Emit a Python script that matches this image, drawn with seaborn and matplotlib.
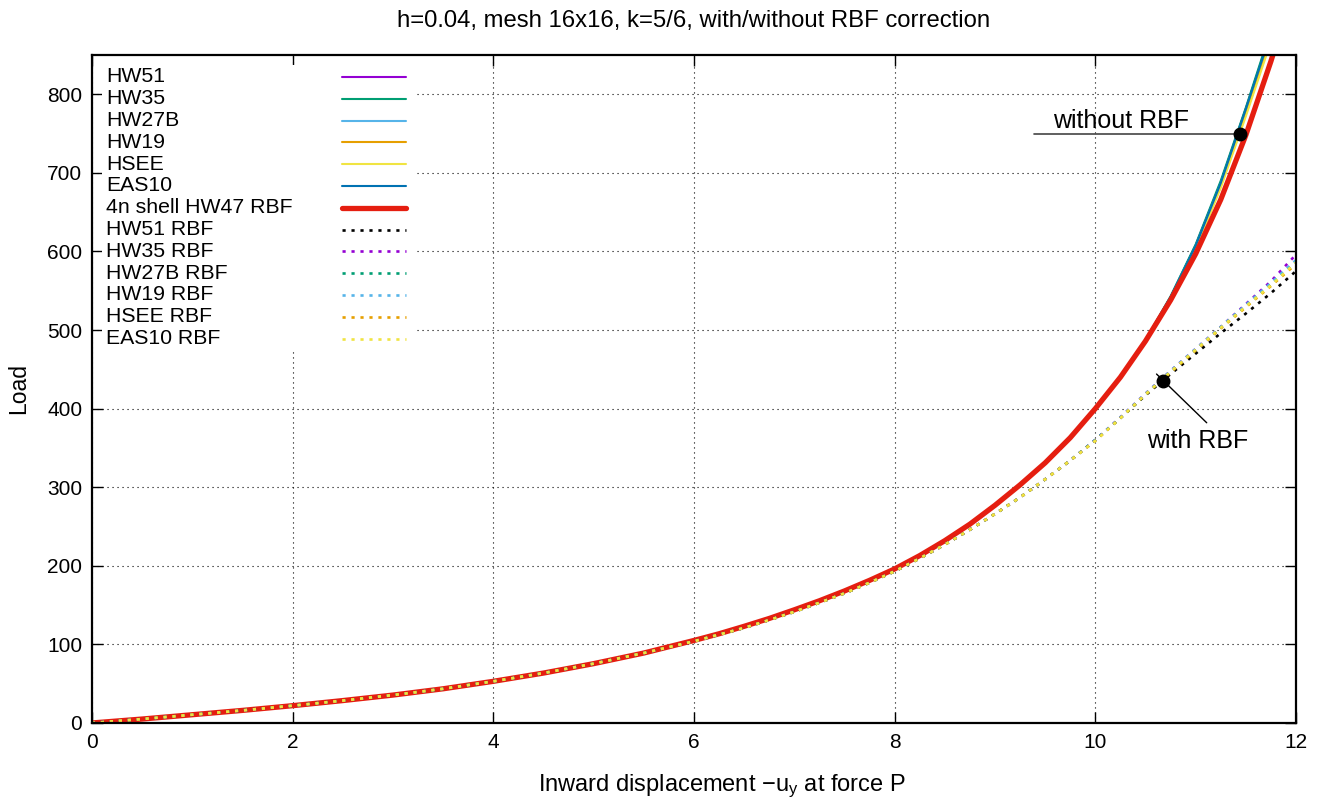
import matplotlib
matplotlib.use("Agg")
import pandas as pd
import matplotlib.pyplot as plt
import seaborn as sns
from matplotlib.patches import Rectangle


sns.set_theme(style="ticks")
plt.rcParams["font.family"] = ["Liberation Sans", "DejaVu Sans"]
plt.rcParams["mathtext.default"] = "regular"
plt.rcParams["text.color"] = "black"
plt.rcParams["axes.labelcolor"] = "black"

# displacement grid, low part shared by every curve
disp_low = [0.0, 0.5, 1.0, 1.5, 2.0, 2.5, 3.0, 3.5, 4.0, 4.5, 5.0, 5.5]
load_low = [0, 5, 10.5, 16, 22, 28.5, 35.5, 43.5, 53, 63.5, 75.5, 89]
disp_high = [6.0, 6.25, 6.5, 6.75, 7.0, 7.25, 7.5, 7.75, 8.0, 8.25, 8.5, 8.75, 9.0,
             9.25, 9.5, 9.75, 10.0, 10.25, 10.5, 10.75, 11.0, 11.25, 11.5, 11.75, 12.0]

# without RBF correction
hw51 = [105, 113.5, 123, 133, 144, 155.5, 168, 181.5, 196, 213, 232, 253, 277,
        303, 331, 363, 400, 441, 487, 542, 608, 688, 782, 879, 982]
hw35 = [105, 113.5, 123, 133, 144, 155.5, 168, 181.5, 196, 213, 232, 253, 277,
        303, 331, 363, 400, 441, 487, 543, 609, 690, 783, 882, 985]
hw27b = [105, 113.5, 123, 133, 144, 155.5, 168, 181.5, 196, 213, 232, 253, 277,
         303, 331, 363, 400, 441, 487, 541, 606, 686, 779, 876, 978]
hw19 = [105, 113.5, 123, 133, 144, 155.5, 168, 181.5, 196, 213, 232, 253, 277,
        303, 331, 363, 400, 440, 486, 540, 604, 683, 775, 870, 970]
hsee = [105, 113.5, 123, 133, 144, 155.5, 168, 181.5, 196, 213, 232, 253, 277,
        303, 331, 363, 400, 440, 486, 540, 603, 681, 772, 867, 966]
eas10 = [105, 113.5, 123, 133, 144, 155.5, 168, 181.5, 196, 213, 232, 253, 277,
         303, 331, 363, 400, 441, 487, 542, 607, 687, 781, 878, 980]
hw47_4n_rbf = [105, 113.5, 123, 133, 144, 155.5, 168, 181.5, 196, 213, 232, 253, 277,
               303, 331, 363, 400, 440, 486, 538, 597, 666, 748, 842, 945]

# with RBF correction
hw51_rbf = [104, 112.5, 121, 131, 141.5, 153, 165, 178.5, 193, 209.5, 227, 246, 266,
            287, 310, 334, 360, 388, 417, 444, 470, 496, 521, 547, 575]
hw35_rbf = [104, 112.5, 121, 131, 141.5, 153, 165, 178.5, 193, 209.5, 227, 246, 266,
            287, 310, 334, 360, 389, 419, 448, 476, 504, 533, 562, 596]
hw27b_rbf = [104, 112.5, 121, 131, 141.5, 153, 165, 178.5, 193, 209.5, 227, 246, 266,
             287, 310, 334, 360, 388, 418, 447, 475, 503, 531, 559, 588]
hw19_rbf = [104, 112.5, 121, 131, 141.5, 153, 165, 178.5, 193, 209.5, 227, 246, 266,
            287, 310, 334, 360, 389, 419, 448, 476, 504, 532, 560, 589]
hsee_rbf = [104, 112.5, 121, 131, 141.5, 153, 165, 178.5, 193, 209.5, 227, 246, 266,
            287, 310, 334, 359, 388, 418, 446, 474, 502, 529, 556, 584]
eas10_rbf = [104, 112.5, 121, 131, 141.5, 153, 165, 178.5, 193, 209.5, 227, 246, 266,
             287, 310, 334, 359, 388, 418, 447, 475, 503, 530, 557, 586]

series_names = ["HW51", "HW35", "HW27B", "HW19", "HSEE", "EAS10", "4n shell HW47 RBF",
                "HW51 RBF", "HW35 RBF", "HW27B RBF", "HW19 RBF", "HSEE RBF", "EAS10 RBF"]
series_tails = [hw51, hw35, hw27b, hw19, hsee, eas10, hw47_4n_rbf,
                hw51_rbf, hw35_rbf, hw27b_rbf, hw19_rbf, hsee_rbf, eas10_rbf]
series_colors = ["#9400d3", "#009e73", "#56b4e9", "#e69f00", "#f0e442", "#0072b2", "#e51e10",
                 "#000000", "#9400d3", "#009e73", "#56b4e9", "#e69f00", "#f0e442"]

x_ticks = [0, 2, 4, 6, 8, 10, 12]
y_ticks = [0, 100, 200, 300, 400, 500, 600, 700, 800]

# annotation points
without_pt = (11.44, 750)
without_line_x = [9.39, 11.44]
without_text = (9.58, 757)
with_pt = (10.67, 435)
with_line = ([10.61, 11.11], [444, 382])
with_text = (10.52, 350)

rows = []
for name, tail in zip(series_names, series_tails):
    for x, y in zip(disp_low + disp_high, load_low + tail):
        rows.append({"series": name, "disp": x, "load": y})
df = pd.DataFrame(rows)

fig = plt.figure(figsize=(13.23, 8.05), dpi=100)
ax = fig.add_axes([0.0695, 0.1019, 0.9101, 0.8298])

styles = {}
for i, (name, color) in enumerate(zip(series_names, series_colors)):
    if i < 6:
        styles[name] = dict(color=color, lw=1.5, ls="-")
    elif i == 6:
        styles[name] = dict(color=color, lw=3.8, ls="-")
    else:
        styles[name] = dict(color=color, lw=1.9, ls=(0, (1.2, 2.2)))

for name in series_names:
    st = styles[name]
    sns.lineplot(data=df[df["series"] == name], x="disp", y="load", ax=ax,
                 color=st["color"], lw=st["lw"], linestyle=st["ls"],
                 legend=False, estimator=None, zorder=2)

ax.set_xlim(0, 12)
ax.set_ylim(0, 850)
ax.set_xticks(x_ticks)
ax.set_yticks(y_ticks)
ax.set_axisbelow(True)
ax.grid(True, color="black", lw=0.8, ls=(0, (1, 3.5)))
ax.tick_params(direction="in", length=8, width=1.0, top=True, right=True,
               labelsize=15, colors="black", pad=7)
for sp in ax.spines.values():
    sp.set_visible(True)
    sp.set_linewidth(1.6)
    sp.set_color("black")

ax.set_title("h=0.04, mesh 16x16, k=5/6, with/without RBF correction", fontsize=17.2, pad=20)
ax.set_xlabel("Inward displacement \u2212u$_y$ at force P", fontsize=17, labelpad=15)
ax.xaxis.label.set_x(0.523)
ax.set_ylabel("Load", fontsize=16.5, labelpad=12)

# annotations
ax.plot(without_line_x, [without_pt[1]] * 2, color="#444444", lw=1.2, zorder=4)
ax.plot(*without_pt, "o", color="black", ms=9, zorder=5)
ax.text(*without_text, "without RBF", fontsize=18, ha="left", va="baseline")
ax.plot(*with_line, color="black", lw=1.0, zorder=4)
ax.plot(*with_pt, "o", color="black", ms=9, zorder=5)
ax.text(*with_text, "with RBF", fontsize=18, ha="left", va="baseline")

# gnuplot-like key: label left, sample on the right, opaque box
ax.add_patch(Rectangle((0.0083, 0.555), 0.261, 0.43, transform=ax.transAxes,
                       facecolor="white", edgecolor="none", zorder=0.6))
row0 = (723 - 77) / 668
drow = 21.8 / 668
for i, name in enumerate(series_names):
    y = row0 - i * drow
    st = styles[name]
    ax.text(0.0116, y, name, transform=ax.transAxes, fontsize=15.3, va="center", ha="left", zorder=3)
    ax.plot([0.2076, 0.2608], [y, y], transform=ax.transAxes, color=st["color"],
            lw=st["lw"], ls=st["ls"], zorder=3, clip_on=False)

fig.savefig("out.png", dpi=100)
